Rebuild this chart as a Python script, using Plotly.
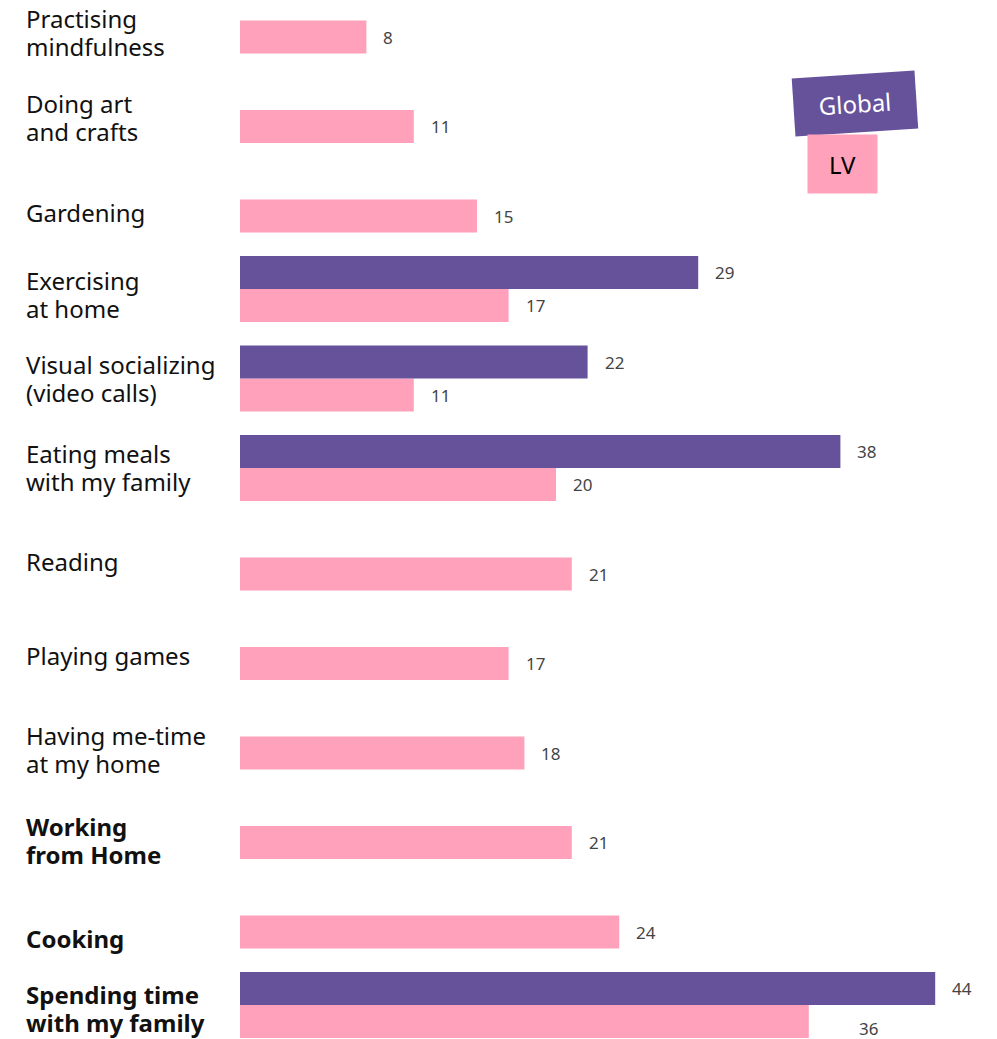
import plotly.graph_objects as go

categories = [
    "Practising<br>mindfulness",
    "Doing art<br>and crafts",
    "Gardening",
    "Exercising<br>at home",
    "Visual socializing<br>(video calls)",
    "Eating meals<br>with my family",
    "Reading",
    "Playing games",
    "Having me-time<br>at my home",
    "Working<br>from Home",
    "Cooking",
    "Spending time<br>with my family",
]
bold = [False, False, False, False, False, False, False, False, False, True, True, True]
lv_values = [8, 11, 15, 17, 11, 20, 21, 17, 18, 21, 24, 36]
global_values = [None, None, None, 29, 22, 38, None, None, None, None, None, 44]

# style: vertical label offsets (px, + = up) relative to the LV bar centre
label_shift = [5, 9, 4, 11, 17, 17, 13, 8, 4, 2, -6, 13]

PURPLE = "#66519B"
PINK = "#FFA1BA"
W = 0.3687  # bar thickness in row units

W_PX, H_PX = 997, 1039
ML, MR = 240, 22
PLOT_W = W_PX - ML - MR
SCALE = 15.8  # px per unit
ROW_PX = 89.5
FIRST = 37
LINE = 28

rows = list(range(len(categories)))

fig = go.Figure()
fig.add_trace(go.Bar(
    x=lv_values, y=rows, orientation="h", width=W,
    marker=dict(color=PINK, line=dict(width=0)), name="LV",
))
gx = [v for v in global_values if v is not None]
gy = [i - W for i, v in zip(rows, global_values) if v is not None]
fig.add_trace(go.Bar(
    x=gx, y=gy, orientation="h", width=W,
    marker=dict(color=PURPLE, line=dict(width=0)), name="Global",
))

ann = []
label_x = (24 - ML) / PLOT_W
for i, (c, b, s) in enumerate(zip(categories, bold, label_shift)):
    lines = c.split("<br>")
    n = len(lines)
    for k, ln in enumerate(lines):
        txt = "<b>" + ln + "</b>" if b else ln
        dy = ((n - 1) / 2 - k) * LINE
        ann.append(dict(xref="paper", yref="y", x=label_x, y=i, text=txt,
                        xanchor="left", yanchor="middle", align="left", showarrow=False,
                        yshift=s + dy, font=dict(family="Noto Sans", size=24, color="#111111")))

for i, v in enumerate(lv_values):
    xs, ys = 15, 0
    if i == len(lv_values) - 1:
        xs, ys = 48, -7
    ann.append(dict(xref="x", yref="y", x=v, y=i, text=str(v), xanchor="left",
                    yanchor="middle", showarrow=False, xshift=xs, yshift=ys,
                    font=dict(family="Noto Sans", size=17, color="#444444")))
for v, y in zip(gx, gy):
    ann.append(dict(xref="x", yref="y", x=v, y=y, text=str(v), xanchor="left",
                    yanchor="middle", showarrow=False, xshift=15,
                    font=dict(family="Noto Sans", size=17, color="#444444")))

# legend boxes
ann.append(dict(xref="paper", yref="paper", x=(855 - ML) / PLOT_W, y=1 - 104 / H_PX,
                text="Global", showarrow=False, xanchor="center", yanchor="middle",
                width=122, height=57, bgcolor=PURPLE, borderpad=0, textangle=-3.7,
                font=dict(family="Noto Sans", size=24, color="white")))
ann.append(dict(xref="paper", yref="paper", x=(842.5 - ML) / PLOT_W, y=1 - 164 / H_PX,
                text="LV", showarrow=False, xanchor="center", yanchor="middle",
                width=69, height=58, bgcolor=PINK, borderpad=0,
                font=dict(family="Noto Sans", size=24, color="black")))

y_top = -FIRST / ROW_PX
y_bot = (H_PX - FIRST) / ROW_PX

fig.update_layout(
    width=W_PX, height=H_PX,
    margin=dict(l=ML, r=MR, t=0, b=0),
    paper_bgcolor="white", plot_bgcolor="white",
    barmode="overlay", showlegend=False, hovermode=False,
    xaxis=dict(range=[0, PLOT_W / SCALE], visible=False, fixedrange=True),
    yaxis=dict(range=[y_bot, y_top], visible=False, fixedrange=True),
    annotations=ann,
    font=dict(family="Noto Sans"),
)

fig.write_html("out.html", config={"displayModeBar": False},
               post_script="document.body.style.margin='0';document.body.style.overflow='hidden';")
